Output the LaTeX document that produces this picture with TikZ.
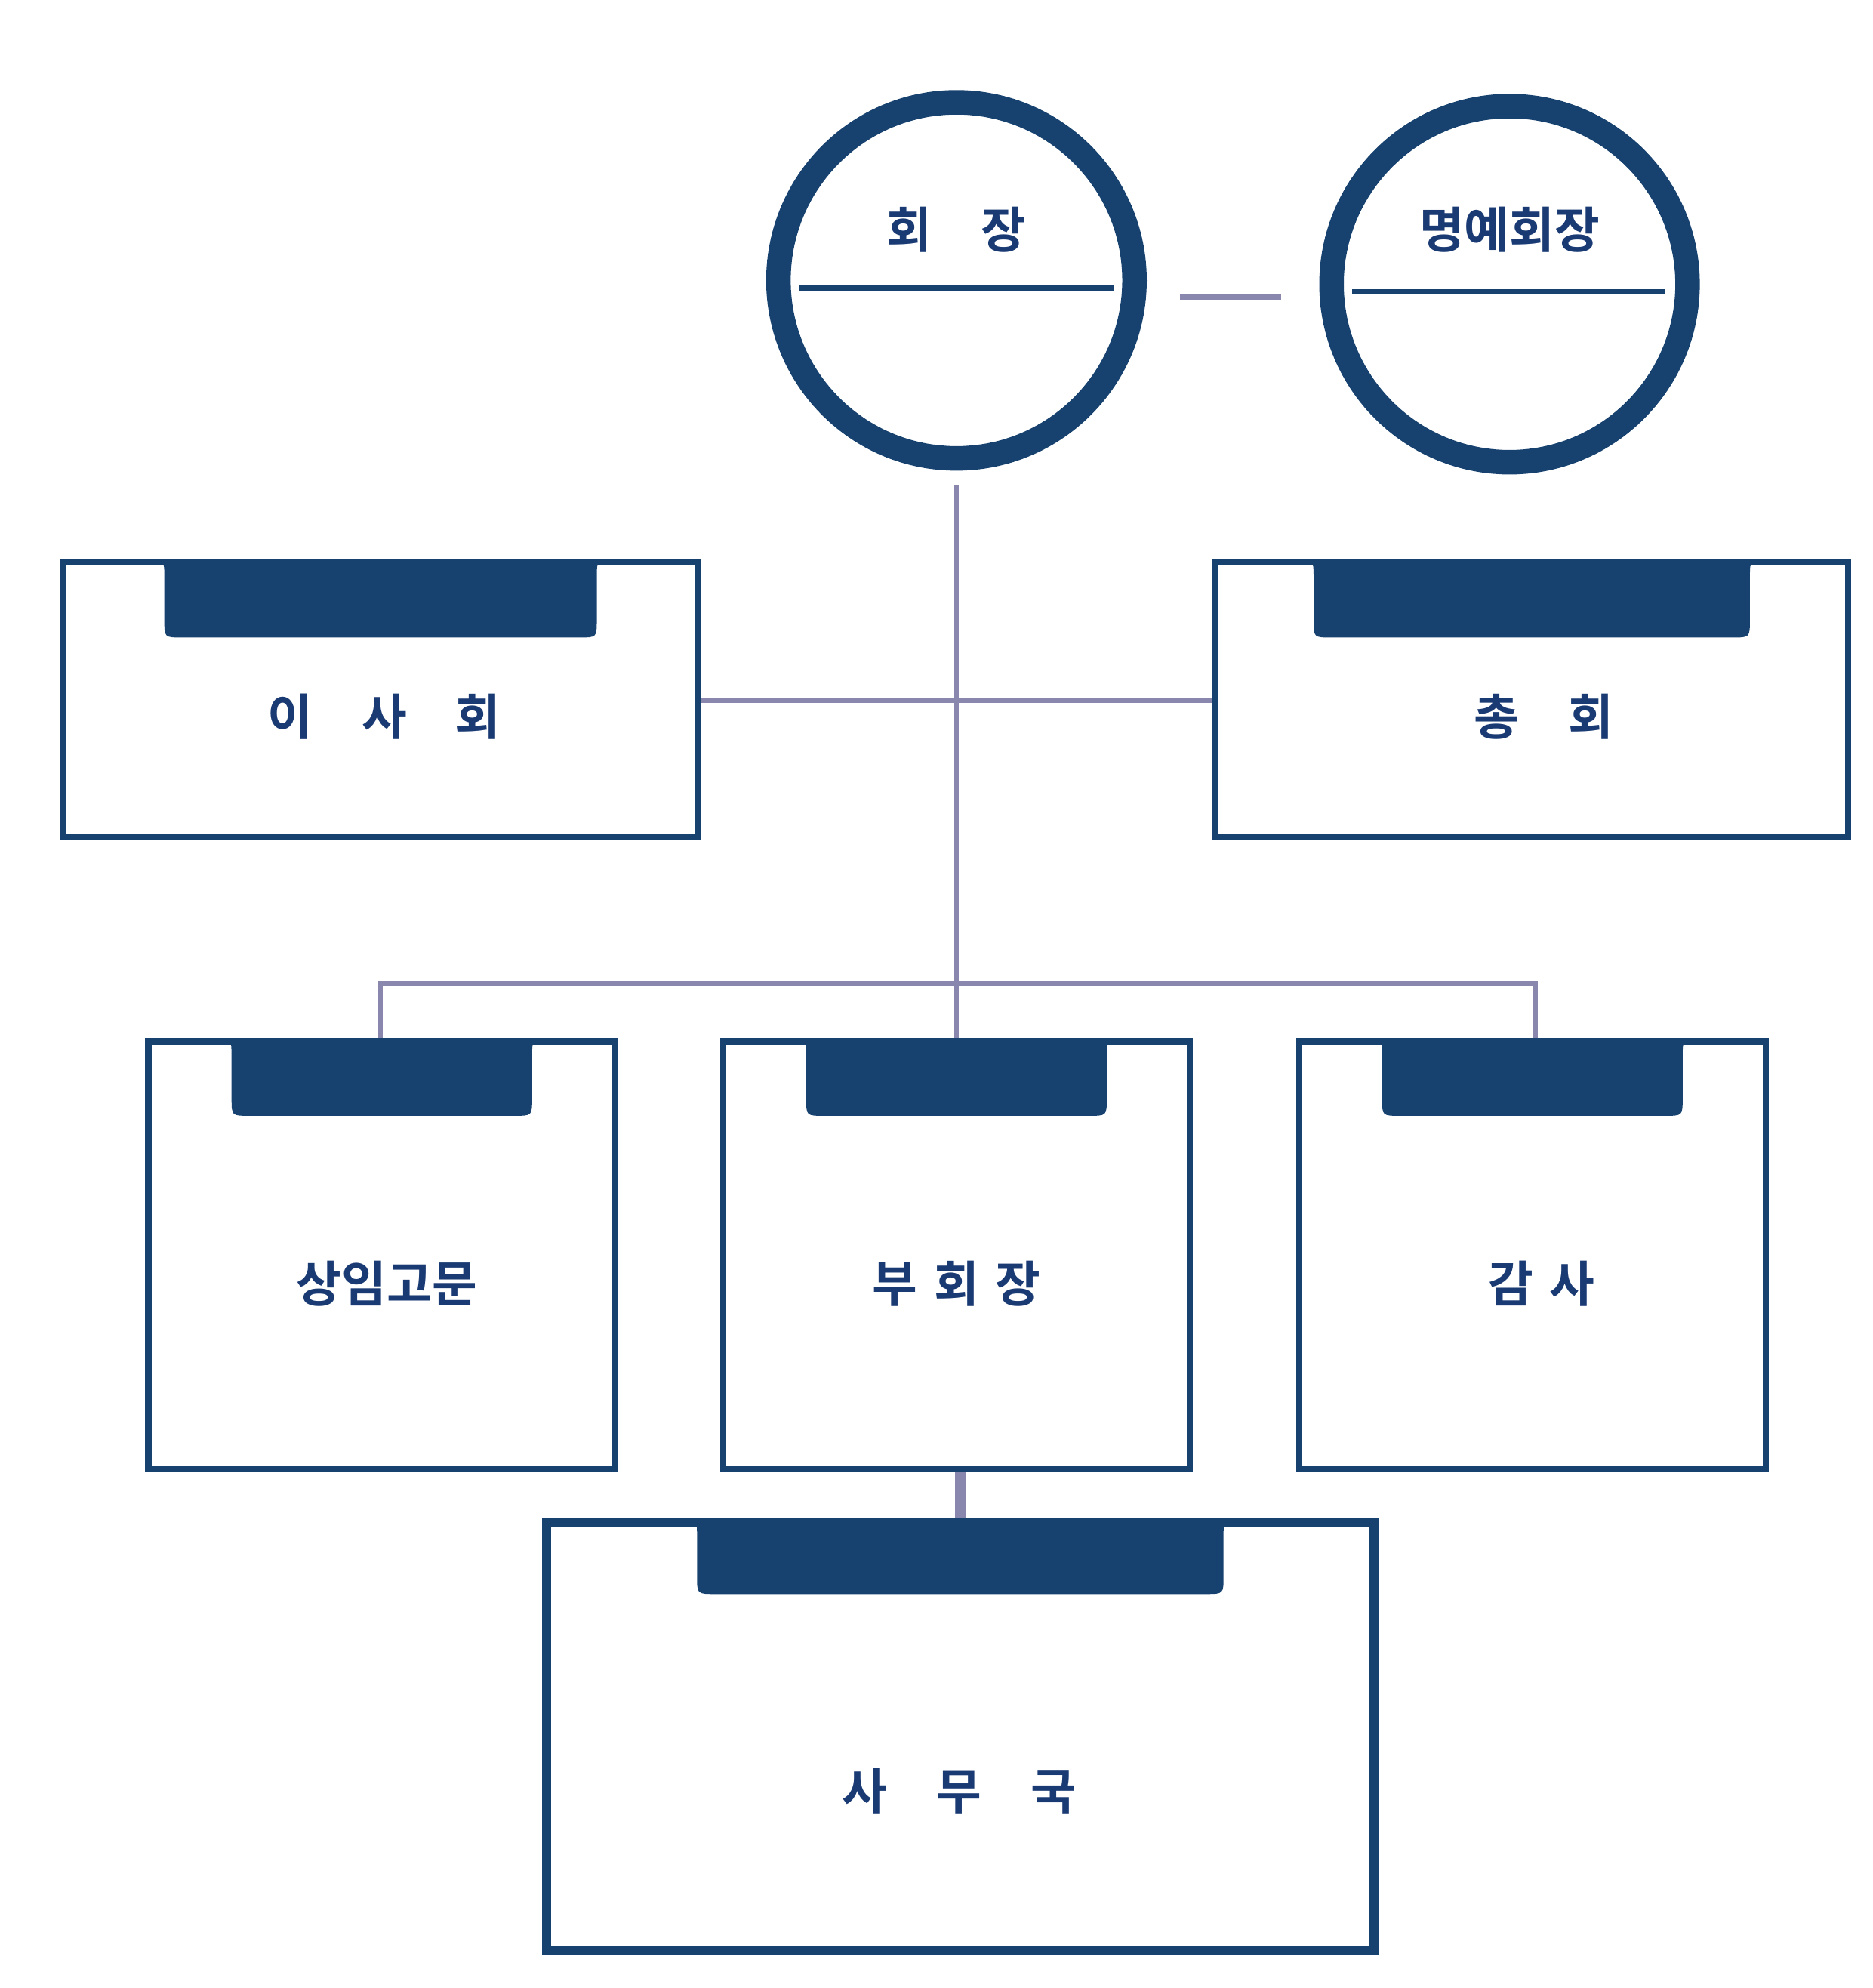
\documentclass[tikz,border=0pt]{standalone}
\usepackage{fontspec}
\newfontfamily\krfont{Noto Sans CJK KR}[BoldFont={Noto Sans CJK KR Bold}]
\definecolor{navy}{HTML}{17426F}
\definecolor{textnavy}{HTML}{1A3A73}
\definecolor{linkgray}{HTML}{8A87AE}
\tikzset{
  ring/.style={circle, draw=navy, line width=11pt, minimum size=300*0.02cm-11pt, inner sep=0pt},
  office/.style={draw=navy, line width=2.8pt, inner sep=0pt},
  label/.style={text=textnavy, font=\krfont\bfseries\fontsize{22}{26}\selectfont},
  link/.style={draw=linkgray, line width=2.3pt}
}
% tab on top of a box: #1 node, #2 inset, #3 depth
\newcommand\drawtab[3]{%
  \fill[navy] ($(#1.north west)+(#2-14,0)$) .. controls ($(#1.north west)+(#2,0)$) .. ($(#1.north west)+(#2,16)$)
    -- ($(#1.north west)+(#2,#3-14)$) .. controls ($(#1.north west)+(#2,#3)$) .. ($(#1.north west)+(#2+14,#3)$)
    -- ($(#1.north east)+(-#2-14,#3)$) .. controls ($(#1.north east)+(-#2,#3)$) .. ($(#1.north east)+(-#2,#3-14)$)
    -- ($(#1.north east)+(-#2,16)$) .. controls ($(#1.north east)+(-#2,0)$) .. ($(#1.north east)+(-#2+14,0)$) -- cycle;}
\usetikzlibrary{calc}
\begin{document}
\begin{tikzpicture}[x=0.02cm, y=-0.02cm]
  \useasboundingbox (0,0) rectangle (1476,1567);
  % connectors
  \draw[link] (930,234) -- (1010,234);
  \draw[link] (754,382) -- (754,775);
  \draw[link] (550,552) -- (957,552);
  \draw[link] (300,820) -- (300,775) -- (1210,775) -- (1210,820);
  \draw[link] (754,775) -- (754,820);
  \draw[link, line width=4.5pt] (757,1158) -- (757,1200);
  % circles
  \node[ring] (chair) at (754,221) {};
  \node[ring] (honor) at (1190,224) {};
  \draw[navy, line width=2.3pt] (630,227) -- (878,227);
  \draw[navy, line width=2.3pt] (1066,230) -- (1313,230);
  \node[label] (chairtext) at (754,181) {회\quad 장};
  \node[label] (honortext) at (1190,181) {명예회장};
  % boxes
  \node[office, minimum width=500*0.02cm, minimum height=217*0.02cm] (board) at (300,551.5) {};
  \node[office, minimum width=499*0.02cm, minimum height=217*0.02cm] (general) at (1207.5,551.5) {};
  \node[office, minimum width=368*0.02cm, minimum height=337*0.02cm] (advisor) at (301,989.5) {};
  \node[office, minimum width=368*0.02cm, minimum height=337*0.02cm] (vice) at (754,989.5) {};
  \node[office, minimum width=368*0.02cm, minimum height=337*0.02cm] (audit) at (1208,989.5) {};
  \node[office, line width=4pt, minimum width=652*0.02cm, minimum height=337*0.02cm] (office) at (757,1368.5) {};
  \drawtab{board}{82}{62}
  \drawtab{general}{80}{62}
  \drawtab{advisor}{68}{61}
  \drawtab{vice}{68}{61}
  \drawtab{audit}{68}{61}
  \drawtab{office}{122}{60}
  % labels
  \node[label] at (303,565) {이\quad 사\quad 회};
  \node[label] at (1217,565) {총\quad 회};
  \node[label] at (305,1012) {상임고문};
  \node[label] at (754,1012) {부\,\,회\,\,장};
  \node[label] at (1215,1012) {감\,\,사};
  \node[label] at (756,1412) {사\quad 무\quad 국};
\end{tikzpicture}
\end{document}
